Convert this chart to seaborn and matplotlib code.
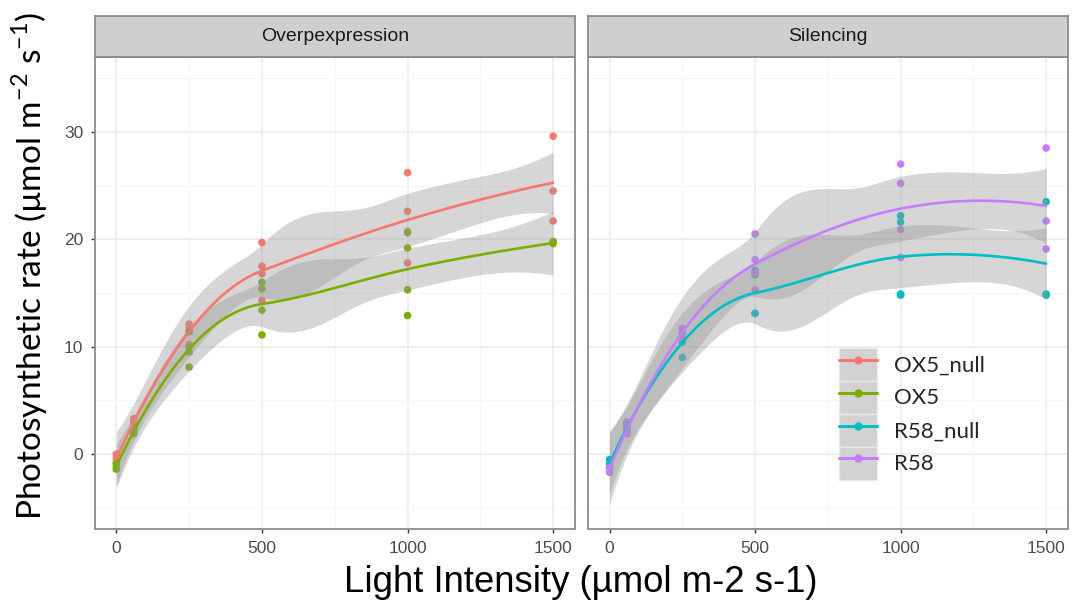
import numpy as np
import pandas as pd
import seaborn as sns
import matplotlib.pyplot as plt
from matplotlib.lines import Line2D
from matplotlib.patches import Rectangle
from matplotlib.legend_handler import HandlerTuple

sns.set_style("white")
plt.rcParams["font.family"] = ["Liberation Sans", "DejaVu Sans"]
plt.rcParams["mathtext.fontset"] = "custom"
plt.rcParams["mathtext.rm"] = "Lato"

# data
genotypes = ["OX5_null", "OX5", "R58_null", "R58"]
colors = ["#F8766D", "#7CAE00", "#00BFC4", "#C77CFF"]
panels = ["Overpexpression", "Silencing"]
panel_of = {"OX5_null": 0, "OX5": 0, "R58_null": 1, "R58": 1}

ox5_null_light = [0, 0, 0, 60, 60, 60, 250, 250, 250, 250, 500, 500, 500, 500,
                  1000, 1000, 1000, 1000, 1500, 1500, 1500]
ox5_null_rate = [0.0, -0.8, -0.4, 3.3, 3.0, 2.6, 12.1, 11.9, 10.2, 11.5,
                 19.7, 17.5, 16.8, 14.3, 26.2, 22.6, 20.6, 17.8, 29.6, 24.5, 21.7]

ox5_light = [0, 0, 0, 60, 60, 60, 250, 250, 250, 250, 500, 500, 500, 500,
             1000, 1000, 1000, 1000, 1500, 1500]
ox5_rate = [-0.9, -1.4, -1.2, 2.5, 1.9, 2.2, 11.4, 9.5, 8.1, 10.0,
            16.0, 15.4, 13.4, 11.1, 20.7, 19.2, 15.3, 12.9, 19.8, 19.6]

r58_null_light = [0, 0, 0, 60, 60, 60, 250, 250, 250, 250, 500, 500, 500, 500,
                  1000, 1000, 1000, 1000, 1500, 1500, 1500]
r58_null_rate = [-0.5, -0.9, -1.2, 2.5, 2.2, 2.8, 10.9, 10.4, 9.0, 11.2,
                 17.1, 16.7, 13.1, 13.1, 22.2, 21.6, 14.8, 14.9, 23.5, 14.8, 14.9]

r58_light = [0, 0, 60, 60, 60, 250, 250, 250, 500, 500, 500, 500,
             1000, 1000, 1000, 1000, 1500, 1500, 1500]
r58_rate = [-1.7, -1.3, 3.0, 1.9, 2.6, 11.7, 11.2, 10.8, 20.5, 18.1, 15.3, 16.9,
            27.0, 25.2, 20.9, 18.3, 28.5, 21.7, 19.1]

lights = [ox5_null_light, ox5_light, r58_null_light, r58_light]
rates = [ox5_null_rate, ox5_rate, r58_null_rate, r58_rate]

df = pd.concat([pd.DataFrame({"light": l, "rate": r, "genotype": g})
                for g, l, r in zip(genotypes, lights, rates)], ignore_index=True)
df["panel"] = df["genotype"].map(lambda g: panels[panel_of[g]])
palette = dict(zip(genotypes, colors))


def t975(nu):
    z = 1.959964
    return (z + (z**3 + z) / (4 * nu) + (5 * z**5 + 16 * z**3 + 3 * z) / (96 * nu**2)
            + (3 * z**7 + 19 * z**5 + 17 * z**3 - 15 * z) / (384 * nu**3))


def local_rows(x, x0, q):
    d = np.abs(x - x0)
    h = np.sort(d)[q - 1]
    u = d / h
    w = np.where(u < 1, (1 - u**3)**3, 0.0)
    X = np.column_stack([np.ones(len(x)), x - x0, (x - x0)**2])
    XtW = X.T * w
    sol = np.linalg.solve(XtW @ X, XtW)
    return sol[0], sol[1]


def loess(x, y, xg, span=0.75):
    # R style loess: local quadratic fits at kd vertices, cubic hermite between them
    x = np.asarray(x, float)
    y = np.asarray(y, float)
    n = len(x)
    q = int(np.floor(n * span))
    rng = x.max() - x.min()
    verts = np.concatenate([[x.min() - 0.005 * rng], np.unique(x), [x.max() + 0.005 * rng]])
    vals, slopes = zip(*[local_rows(x, v, q) for v in verts])

    def interp(x0):
        i = min(np.searchsorted(verts, x0, side="right") - 1, len(verts) - 2)
        a, b = verts[i], verts[i + 1]
        hh = b - a
        t = (x0 - a) / hh
        h00 = 2 * t**3 - 3 * t**2 + 1
        h10 = t**3 - 2 * t**2 + t
        h01 = -2 * t**3 + 3 * t**2
        h11 = t**3 - t**2
        return h00 * vals[i] + h10 * hh * slopes[i] + h01 * vals[i + 1] + h11 * hh * slopes[i + 1]

    L = np.array([interp(v) for v in x])
    Lg = np.array([interp(v) for v in xg])
    fit = Lg @ y
    R = np.eye(n) - L
    M = R.T @ R
    d1, d2 = np.trace(M), np.trace(M @ M)
    s = np.sqrt(np.sum((R @ y)**2) / d1)
    se = s * np.sqrt(np.sum(Lg**2, axis=1))
    t = t975(d1**2 / d2)
    return fit, fit - t * se, fit + t * se


fig = plt.figure(figsize=(10.72, 6.02), dpi=100)
W, H = 1072, 602
ax_boxes = [(94.5, 575), (587.7, 1068)]
top, bottom, strip_top = 56.7, 529.3, 15.7
axes = []
for i, (x0, x1) in enumerate(ax_boxes):
    ax = fig.add_axes([x0 / W, 1 - bottom / H, (x1 - x0) / W, (bottom - top) / H])
    sax = fig.add_axes([x0 / W, 1 - top / H, (x1 - x0) / W, (top - strip_top) / H])
    sax.set_facecolor("#CFCFCF")
    sax.set_xticks([])
    sax.set_yticks([])
    for sp in sax.spines.values():
        sp.set_color("#8C8C8C")
        sp.set_linewidth(1.3)
    sax.text(0.5, 0.5, panels[i], ha="center", va="center", fontsize=14,
             color="#1A1A1A", transform=sax.transAxes)
    axes.append(ax)

for i, ax in enumerate(axes):
    sub = df[df["panel"] == panels[i]]
    sns.scatterplot(data=sub, x="light", y="rate", hue="genotype", palette=palette,
                    s=30, linewidth=0, legend=False, ax=ax, zorder=2)
    for g in sub["genotype"].unique():
        gd = sub[sub["genotype"] == g]
        xg = np.linspace(gd["light"].min(), gd["light"].max(), 80)
        fit, lo, hi = loess(gd["light"], gd["rate"], xg)
        ax.fill_between(xg, lo, hi, color="#999999", alpha=0.4, linewidth=0, zorder=3)
        sns.lineplot(x=xg, y=fit, color=palette[g], linewidth=1.9, ax=ax, zorder=4)

    ax.set_xlim(-75, 1575)
    ax.set_ylim(-7, 37)
    ax.set_xticks([0, 500, 1000, 1500])
    ax.set_xticks([250, 750, 1250], minor=True)
    ax.set_yticks([0, 10, 20, 30])
    ax.set_yticks([-5, 5, 15, 25, 35], minor=True)
    ax.grid(True, which="major", color="#EBEBEB", linewidth=1.1, zorder=0)
    ax.grid(True, which="minor", color="#F5F5F5", linewidth=0.6, zorder=0)
    ax.set_axisbelow(True)
    ax.tick_params(which="major", direction="out", length=3.2, width=1, color="#333333",
                   labelsize=12.5, labelcolor="#4D4D4D", pad=5)
    ax.tick_params(which="minor", length=0)
    ax.tick_params(axis="x", bottom=True)
    ax.tick_params(axis="y", left=True)
    ax.set_xlabel("")
    ax.set_ylabel("")
    for sp in ax.spines.values():
        sp.set_color("#8C8C8C")
        sp.set_linewidth(1.3)
        sp.set_zorder(5)
    if i == 1:
        ax.set_yticklabels([])
        ax.tick_params(axis="y", left=False)

fig.text(581 / W, 1 - 582 / H, "Light Intensity (µmol m-2 s-1)", ha="center", va="center",
         fontsize=26.3, color="black")
fig.text(30 / W, 1 - 266 / H,
         r"Photosynthetic rate (µmol m$^{\mathregular{-2}}$ s$^{\mathregular{-1}}$)",
         ha="center", va="center", rotation=90, fontsize=24, family="Lato", color="black")

handles = []
for c in colors:
    box = Rectangle((0, 0), 1, 1, facecolor="#D2D2D2", edgecolor="#EAEAEA", linewidth=1)
    ln = Line2D([], [], color=c, linewidth=2.2, marker="o", markersize=5)
    handles.append((box, ln))
axes[1].legend(handles, genotypes, handler_map={tuple: HandlerTuple(ndivide=1, pad=0)},
               loc="upper left", bbox_to_anchor=(839 / W, 1 - 348 / H),
               bbox_transform=fig.transFigure, frameon=False, numpoints=1,
               prop={"family": "Lato", "size": 16}, handlelength=1.71, handleheight=1.9,
               handletextpad=0.75, labelspacing=0.0, borderpad=0, borderaxespad=0)

fig.savefig("out.png", dpi=100)
